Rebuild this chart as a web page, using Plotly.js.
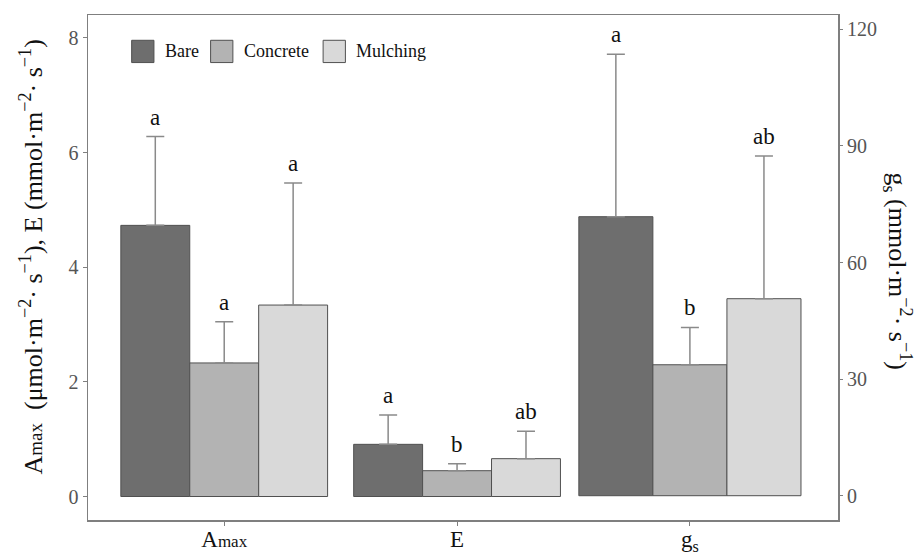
<!DOCTYPE html>
<html><head><meta charset="utf-8">
<script src="https://cdn.plot.ly/plotly-3.0.1.min.js"></script>
<style>html,body{margin:0;padding:0;background:#fff}#chart{width:916px;height:555px}</style>
</head><body><div id="chart"></div>
<script>
// ---- data ----
const leftCategories = ["Amax", "E"];
const rightCategories = ["gs"];
const allCategories = ["Amax", "E", "gs"];
const tickLabels = ["A<span style='font-size:17px'>max</span>", "E", "g<sub>s</sub>"];
const treatments = ["Bare", "Concrete", "Mulching"];
const bareLeft = [4.73, 0.91];
const bareLeftErr = [1.55, 0.51];
const concreteLeft = [2.33, 0.45];
const concreteLeftErr = [0.72, 0.12];
const mulchingLeft = [3.34, 0.66];
const mulchingLeftErr = [2.13, 0.48];
const bareRight = [71.8];
const bareRightErr = [41.8];
const concreteRight = [33.7];
const concreteRightErr = [9.6];
const mulchingRight = [50.7];
const mulchingRightErr = [36.7];
const lettersBare = ["a", "a", "a"];
const lettersConcrete = ["a", "b", "b"];
const lettersMulching = ["a", "ab", "ab"];
const leftTitle = "A<span style='font-size:19px'>max</span>  (μmol·m<sup>−2</sup>· s<sup>−1</sup>), E (mmol·m<sup>−2</sup>· s<sup>−1</sup>)";
const rightTitle = "g<sub>s</sub> (mmol·m<sup>−2</sup>· s<sup>−1</sup>)";

// ---- styles ----
const colors = ["#6e6e6e", "#b3b3b3", "#d9d9d9"];
const serif = "Liberation Serif, Times New Roman, serif";
const wL = 0.296, wR = 0.318;

const leftVals = [bareLeft, concreteLeft, mulchingLeft];
const leftErrs = [bareLeftErr, concreteLeftErr, mulchingLeftErr];
const rightVals = [bareRight, concreteRight, mulchingRight];
const rightErrs = [bareRightErr, concreteRightErr, mulchingRightErr];
const letters = [lettersBare, lettersConcrete, lettersMulching];

const traces = [];
const annotations = [];
treatments.forEach((t, i) => {
  const offL = -1.5 * wL + i * wL;
  const offR = -1.5 * wR + i * wR;
  traces.push({
    type: "bar", name: t, x: leftCategories, y: leftVals[i], xaxis: "x", yaxis: "y",
    width: wL, offset: offL,
    marker: {color: colors[i], line: {color: "#505050", width: 1}},
    error_y: {type: "data", array: leftErrs[i], arrayminus: leftErrs[i].map(() => 0), symmetric: false,
      color: "#8a8a8a", thickness: 1.5, width: 9},
    showlegend: false, hoverinfo: "x+y"
  });
  traces.push({
    type: "bar", name: t, x: rightCategories, y: rightVals[i], xaxis: "x", yaxis: "y2",
    width: wR, offset: offR,
    marker: {color: colors[i], line: {color: "#505050", width: 1}},
    error_y: {type: "data", array: rightErrs[i], arrayminus: rightErrs[i].map(() => 0), symmetric: false,
      color: "#8a8a8a", thickness: 1.5, width: 9},
    showlegend: false, hoverinfo: "x+y"
  });
  leftCategories.forEach((c, k) => {
    annotations.push({
      x: allCategories.indexOf(c) + offL + wL / 2, xref: "x",
      y: leftVals[i][k] + leftErrs[i][k], yref: "y",
      text: letters[i][k], showarrow: false, yanchor: "bottom", yshift: 5,
      font: {family: serif, size: 23, color: "#111"}
    });
  });
  rightCategories.forEach((c, k) => {
    annotations.push({
      x: allCategories.indexOf(c) + offR + wR / 2, xref: "x",
      y: rightVals[i][k] + rightErrs[i][k], yref: "y2",
      text: letters[i][leftCategories.length + k], showarrow: false, yanchor: "bottom", yshift: 5,
      font: {family: serif, size: 23, color: "#111"}
    });
  });
});

// custom legend (large swatches)
const legendX = [131.7, 210.7, 323.3];
const shapes = [];
treatments.forEach((t, i) => {
  shapes.push({type: "rect", xref: "paper", yref: "paper",
    x0: (legendX[i] - 88) / 750.6, x1: (legendX[i] + 22.3 - 88) / 750.6,
    y0: (520 - 62.3) / 505.3, y1: (520 - 40) / 505.3,
    fillcolor: colors[i], line: {color: "#505050", width: 1}});
  annotations.push({xref: "paper", yref: "paper",
    x: (legendX[i] + 31 - 88) / 750.6, y: (520 - 51) / 505.3,
    xanchor: "left", yanchor: "middle", showarrow: false, text: t,
    font: {family: serif, size: 18, color: "#111"}});
});

// axis titles
annotations.push({xref: "paper", yref: "paper", x: 0, xshift: -56, y: 0.5, yshift: 10,
  xanchor: "center", yanchor: "middle", textangle: -90, showarrow: false,
  text: leftTitle, font: {family: serif, size: 26, color: "#111"}});
annotations.push({xref: "paper", yref: "paper", x: 1, xshift: 60, y: 0.5, yshift: -3,
  xanchor: "center", yanchor: "middle", textangle: 90, showarrow: false,
  text: rightTitle, font: {family: serif, size: 26, color: "#111"}});

const layout = {
  width: 916, height: 555,
  margin: {l: 88, r: 78, t: 15, b: 35},
  paper_bgcolor: "#fff", plot_bgcolor: "#fff",
  font: {family: serif, color: "#111"},
  barmode: "overlay",
  showlegend: false,
  xaxis: {type: "category", categoryorder: "array", categoryarray: allCategories,
    range: [-0.585, 2.636], tickvals: allCategories, ticktext: tickLabels,
    ticks: "outside", ticklen: 4, tickcolor: "#7f7f7f", ticklabelstandoff: -6,
    tickfont: {family: serif, size: 23, color: "#111"},
    showline: true, linecolor: "#7f7f7f", linewidth: 1.5, mirror: true,
    showgrid: false, zeroline: false},
  yaxis: {range: [-0.41, 8.40], tickvals: [0, 2, 4, 6, 8],
    ticks: "outside", ticklen: 4, tickcolor: "#7f7f7f",
    tickfont: {family: serif, size: 20, color: "#555"},
    showline: true, linecolor: "#7f7f7f", linewidth: 1.5, mirror: true,
    showgrid: false, zeroline: false},
  yaxis2: {overlaying: "y", side: "right", range: [-6.25, 123.7],
    tickvals: [0, 30, 60, 90, 120],
    ticks: "outside", ticklen: 4, tickcolor: "#7f7f7f",
    tickfont: {family: serif, size: 20, color: "#555"},
    showline: false, showgrid: false, zeroline: false},
  shapes: shapes,
  annotations: annotations
};

Plotly.newPlot("chart", traces, layout, {displayModeBar: false, staticPlot: true});
</script>
</body></html>
